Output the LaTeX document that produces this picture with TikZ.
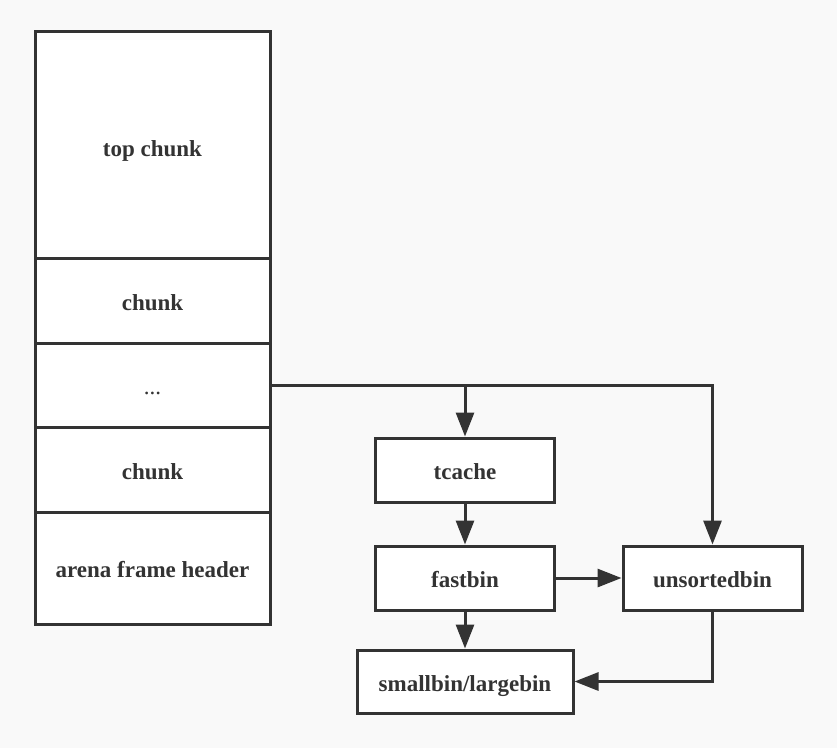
\documentclass[tikz,border=0pt]{standalone}
\usepackage{fontspec}
\setmainfont{Liberation Serif}[BoldFont={Liberation Serif Bold}]
\usetikzlibrary{arrows.meta,positioning}
\definecolor{ink}{HTML}{333333}
\definecolor{paper}{HTML}{F9F9F9}

\begin{document}
\begin{tikzpicture}[
  x=1pt, y=-1pt,
  font=\fontsize{23}{27}\selectfont\bfseries,
  cell/.style={draw=ink, line width=3pt, fill=white, text=ink, minimum width=235pt, inner sep=0pt, outer sep=0pt, text height=22pt, text depth=3pt},
  bin/.style={draw=ink, line width=3pt, fill=white, text=ink, minimum width=179pt, minimum height=64pt, inner sep=0pt, text height=22pt, text depth=3pt},
  arr/.style={-{Triangle[length=24pt,width=18pt]}, draw=ink, line width=3pt}
]
\fill[paper] (0,0) rectangle (837,748);
\useasboundingbox (0,0) rectangle (837,748);
% arena stack
\node[cell, minimum height=227pt] (top) at (152.5,144.5) {\raisebox{-2pt}{top chunk}};
\node[cell, minimum height=85pt, below=0pt of top] (ck1) {chunk};
\node[cell, minimum height=84pt, below=0pt of ck1] (dots) {\mdseries ...};
\node[cell, minimum height=85pt, below=0pt of dots] (ck2) {chunk};
\node[cell, minimum height=112pt, below=0pt of ck2] (hdr) {arena frame header};
% bins
\node[bin] (tc) at (465,470) {tcache};
\node[bin] (fb) at (465,578) {fastbin};
\node[bin] (ub) at (712.5,578) {unsortedbin};
\node[bin, minimum width=216pt, minimum height=63pt] (sl) at (465,681.5) {smallbin/largebin};
\coordinate (split) at (dots.east -| tc.north);
\draw[arr] (dots.east) -| (ub.north);
\draw[arr] (split) -- (tc.north);
\draw[arr] (tc) -- (fb);
\draw[arr] (fb) -- (ub);
\draw[arr] (fb) -- (sl);
\draw[arr] (ub.south) |- (sl.east);
\end{tikzpicture}
\end{document}
